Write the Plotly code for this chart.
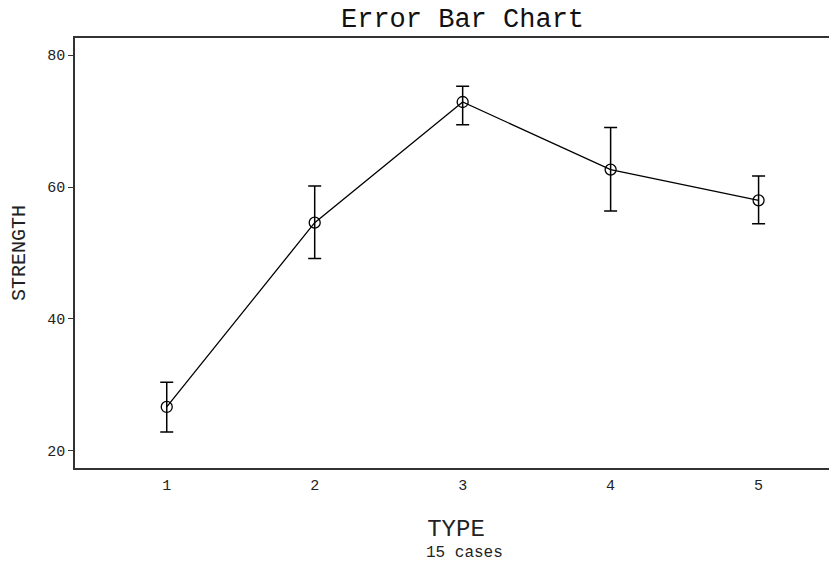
import plotly.graph_objects as go

types = [1, 2, 3, 4, 5]
means = [26.67, 54.60, 72.88, 62.64, 57.98]
upper = [30.41, 60.15, 75.26, 69.00, 61.67]
lower = [22.88, 49.15, 69.45, 56.36, 54.45]
y_ticks = [20, 40, 60, 80]

err_plus = [u - m for u, m in zip(upper, means)]
err_minus = [m - l for m, l in zip(means, lower)]

FONT = "Courier New, Liberation Mono, monospace"

# page has an 8px body margin: figure is drawn from (8, 8)
W, H = 829, 553

fig = go.Figure(go.Scatter(
    x=types, y=means, mode="lines+markers",
    line=dict(color="black", width=1.3),
    marker=dict(symbol="circle-open", size=11, color="black", line=dict(width=1.3)),
    error_y=dict(type="data", symmetric=False, array=err_plus, arrayminus=err_minus,
                 color="black", thickness=1.5, width=6.5),
    showlegend=False,
))

fig.update_layout(
    width=W, height=H,
    margin=dict(l=67, r=0, t=30, b=93),
    paper_bgcolor="white", plot_bgcolor="white",
    font=dict(family=FONT, color="#222"),
    xaxis=dict(range=[0.38, 5.53], tickvals=types, ticktext=[str(t) for t in types],
               showgrid=False, zeroline=False, showline=True, mirror=True,
               linecolor="#333", linewidth=1.5, ticks="outside", ticklen=2,
               tickcolor="rgba(0,0,0,0)", tickfont=dict(size=15, family=FONT),
               title=dict(text="TYPE", font=dict(size=24, family=FONT), standoff=25)),
    yaxis=dict(range=[17.42, 82.58], tickvals=y_ticks, showgrid=False, zeroline=False,
               showline=True, linecolor="#333", linewidth=1.5, ticks="outside", ticklen=5,
               tickcolor="#333", tickfont=dict(size=15, family=FONT),
               title=dict(text="STRENGTH", font=dict(size=20, family=FONT), standoff=16)),
    annotations=[
        dict(text="Error Bar Chart", x=(462 - 75) / 762, xref="paper",
             y=1 + (38 - 20) / 430, yref="paper", yanchor="middle", xanchor="center",
             showarrow=False, font=dict(size=27, family=FONT, color="#111")),
        dict(text="15 cases", x=(464 - 75) / 762, xref="paper",
             y=(468 - 552.7) / 430, yref="paper", yanchor="middle",
             showarrow=False, font=dict(size=16, family=FONT)),
    ],
)

fig.write_html("out.html")
